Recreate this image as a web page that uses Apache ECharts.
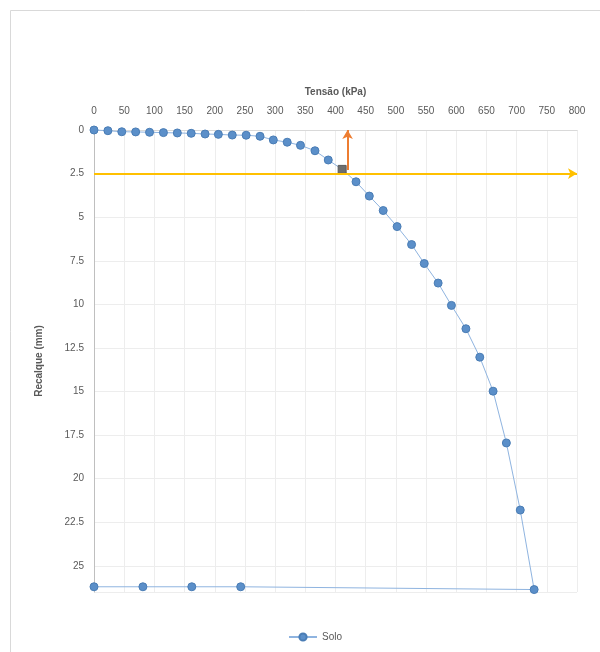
<!DOCTYPE html>
<html>
<head>
<meta charset="utf-8">
<script src="https://cdn.jsdelivr.net/npm/echarts@6/dist/echarts.min.js"></script>
<style>
html,body{margin:0;padding:0;background:#fff;}
#chart{width:600px;height:652px;}
</style>
</head>
<body>
<div id="chart"></div>
<script>
// Data
var tensao = [0, 23, 46, 69, 92, 115, 138, 161, 184, 206, 229, 252, 275, 297, 320, 342, 366, 388, 411, 434, 456, 479, 502, 526, 547, 570, 592, 616, 639, 661, 683, 706, 729, 243, 162, 81, 0];
var recalque = [0, 0.04, 0.1, 0.11, 0.13, 0.15, 0.17, 0.19, 0.23, 0.25, 0.29, 0.3, 0.36, 0.57, 0.7, 0.88, 1.19, 1.72, 2.26, 2.97, 3.79, 4.62, 5.54, 6.57, 7.66, 8.78, 10.06, 11.4, 13.03, 14.98, 17.95, 21.8, 26.36, 26.2, 26.2, 26.2, 26.2];
var highlightIndex = 18;           // point drawn as grey square
var yellowLine = [[0, 2.5], [800, 2.5]];
var orangeArrow = [[420, 2.3], [420, 0]];
var seriesName = 'Solo';
var xTitle = 'Tensão (kPa)';
var yTitle = 'Recalque (mm)';

var chart = echarts.init(document.getElementById('chart'), null, {renderer: 'canvas'});
var font = 'Liberation Sans';
var data = tensao.map(function (t, i) {
  var item = {value: [t, recalque[i]]};
  if (i === highlightIndex) {
    item.symbol = 'rect';
    item.symbolSize = 8;
    item.itemStyle = {color: '#6e6e6e', borderColor: '#5a5a5a'};
  }
  return item;
});

chart.setOption({
  animation: false,
  backgroundColor: '#fff',
  textStyle: {fontFamily: font},
  graphic: [{
    type: 'rect',
    shape: {x: 10.5, y: 10.5, width: 620, height: 680},
    style: {fill: 'none', stroke: '#d9d9d9', lineWidth: 1},
    silent: true
  }],
  grid: {left: 94, right: 23, top: 130, bottom: 60},
  legend: {
    left: 283, top: 627,
    itemWidth: 28, itemHeight: 9,
    textStyle: {fontFamily: font, fontSize: 10, color: '#595959'},
    data: [seriesName]
  },
  xAxis: {
    type: 'value', position: 'top', min: 0, max: 800, interval: 50,
    name: xTitle, nameLocation: 'middle', nameGap: 33,
    nameTextStyle: {fontFamily: font, fontSize: 10, fontWeight: 'bold', color: '#595959'},
    axisLine: {show: true, lineStyle: {color: '#d9d9d9'}},
    axisTick: {show: false},
    axisLabel: {fontFamily: font, fontSize: 10, color: '#595959', margin: 14},
    splitLine: {show: true, lineStyle: {color: '#ededed', width: 1}}
  },
  yAxis: {
    type: 'value', inverse: true, min: 0, max: 26.5, interval: 2.5,
    name: yTitle, nameLocation: 'middle', nameGap: 50,
    nameTextStyle: {fontFamily: font, fontSize: 10, fontWeight: 'bold', color: '#595959'},
    axisLine: {show: true, lineStyle: {color: '#bfbfbf'}},
    axisTick: {show: false},
    showMaxLabel: false,
    axisLabel: {
      fontFamily: font, fontSize: 10, color: '#595959', margin: 10,
      formatter: function (v) { return (Math.abs(v / 2.5 - Math.round(v / 2.5)) < 1e-6) ? String(v) : ''; }
    },
    splitLine: {show: true, lineStyle: {color: '#ededed', width: 1}}
  },
  series: [{
    name: seriesName,
    type: 'line',
    data: data,
    symbol: 'circle',
    symbolSize: 8,
    showAllSymbol: true,
    clip: false,
    itemStyle: {color: '#5b8fc9', borderColor: '#4a7db5', borderWidth: 1},
    lineStyle: {color: '#8fb4e0', width: 1},
    markLine: {
      silent: true,
      animation: false,
      label: {show: false},
      emphasis: {disabled: true},
      symbol: ['none', 'arrow'],
      symbolSize: [8, 9],
      data: [
        [{coord: yellowLine[0], lineStyle: {color: '#ffc000', width: 2, type: 'solid'}},
         {coord: yellowLine[1]}],
        [{coord: orangeArrow[0], lineStyle: {color: '#ed7d31', width: 2, type: 'solid'}},
         {coord: orangeArrow[1]}]
      ]
    },
    z: 3
  }]
});
</script>
</body>
</html>
